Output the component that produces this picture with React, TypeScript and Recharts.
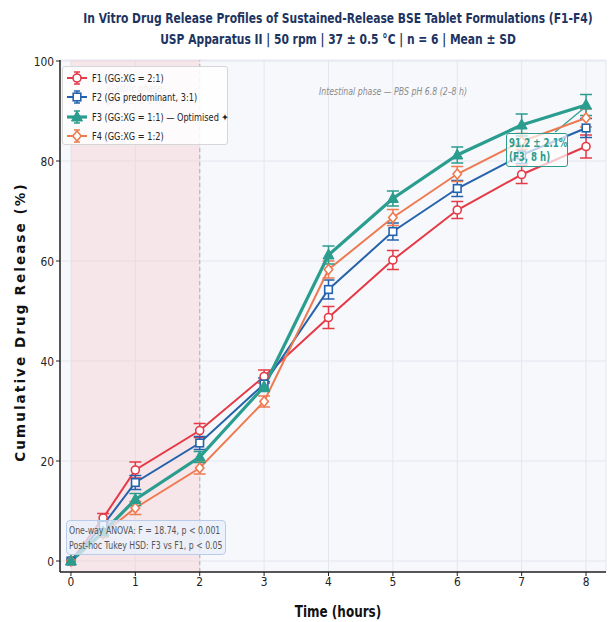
import {
  CartesianGrid,
  ErrorBar,
  Line,
  LineChart,
  ReferenceArea,
  ReferenceLine,
  XAxis,
  YAxis,
} from 'recharts'

const times = [0, 0.5, 1, 2, 3, 4, 5, 6, 7, 8]

const f1Mean = [0, 8.6, 18.2, 26.1, 36.9, 48.7, 60.2, 70.2, 77.3, 82.9]
const f1Sd = [0, 0.9, 1.6, 1.4, 1.3, 2.2, 1.9, 1.7, 1.8, 2.3]
const f2Mean = [0, 7.2, 15.7, 23.6, 35.4, 54.3, 65.9, 74.5, 81.2, 86.6]
const f2Sd = [0, 0.8, 1.4, 1.3, 1.2, 1.9, 1.7, 1.6, 1.7, 1.9]
const f3Mean = [0, 5.8, 12.3, 20.8, 34.9, 61.2, 72.5, 81.2, 87.2, 91.2]
const f3Sd = [0, 0.6, 1.2, 1.1, 1.0, 1.8, 1.5, 1.6, 2.2, 2.1]
const f4Mean = [0, 5.5, 10.6, 18.6, 31.9, 58.3, 68.7, 77.4, 83.9, 88.6]
const f4Sd = [0, 0.7, 1.3, 1.2, 1.1, 1.7, 1.6, 1.5, 1.6, 1.8]

const xTicks = [0, 1, 2, 3, 4, 5, 6, 7, 8]
const yTicks = [0, 20, 40, 60, 80, 100]

const COLORS = {
  f1: '#e63946',
  f2: '#2463ac',
  f3: '#2a9d8f',
  f4: '#ee7a50',
}

const legendItems = [
  { key: 'f1', label: 'F1 (GG:XG = 2:1)', shape: 'circle' },
  { key: 'f2', label: 'F2 (GG predominant, 3:1)', shape: 'square' },
  { key: 'f3', label: 'F3 (GG:XG = 1:1) — Optimised ✦', shape: 'triangle' },
  { key: 'f4', label: 'F4 (GG:XG = 1:2)', shape: 'diamond' },
] as const

const data = times.map((t, i) => ({
  t,
  f1: f1Mean[i],
  f1Sd: f1Sd[i],
  f2: f2Mean[i],
  f2Sd: f2Sd[i],
  f3: f3Mean[i],
  f3Sd: f3Sd[i],
  f4: f4Mean[i],
  f4Sd: f4Sd[i],
}))

const FONT = "'DejaVu Sans', sans-serif"

const Marker = ({
  shape,
  cx,
  cy,
  color,
}: {
  shape: string
  cx: number
  cy: number
  color: string
}) => {
  if (shape === 'circle')
    return <circle cx={cx} cy={cy} r={4} fill="#fff" stroke={color} strokeWidth={1.6} />
  if (shape === 'square')
    return (
      <rect x={cx - 3.8} y={cy - 3.8} width={7.6} height={7.6} fill="#fff" stroke={color} strokeWidth={1.6} />
    )
  if (shape === 'triangle')
    return (
      <polygon
        points={`${cx},${cy - 6} ${cx - 5.5},${cy + 4} ${cx + 5.5},${cy + 4}`}
        fill={color}
        stroke={color}
        strokeWidth={1}
      />
    )
  return (
    <polygon
      points={`${cx},${cy - 5} ${cx + 4.2},${cy} ${cx},${cy + 5} ${cx - 4.2},${cy}`}
      fill="#fff"
      stroke={color}
      strokeWidth={1.6}
    />
  )
}

const makeDot = (shape: string, color: string) => (props: any) => (
  <Marker key={`${shape}-${props.index}`} shape={shape} cx={props.cx} cy={props.cy} color={color} />
)

// DejaVu Sans squeezed horizontally, like the condensed face in the reference
const NarrowTick = ({ x, y, payload, textAnchor, dy }: any) => (
  <g transform={`translate(${x},${y}) scale(0.82,1)`}>
    <text
      x={0}
      y={0}
      dy={dy ?? '0.355em'}
      textAnchor={textAnchor}
      fontFamily={FONT}
      fontSize={13}
      fill="#222"
    >
      {payload.value}
    </text>
  </g>
)

const squeeze = (k: number, origin = 'center') => ({
  transform: `scaleX(${k})`,
  transformOrigin: origin,
})

export default function App() {
  return (
    <div style={{ position: 'fixed', left: 0, top: 0, width: 609, height: 622, background: '#fff', overflow: 'hidden' }}>
      <div
        style={{
          position: 'absolute',
          left: 0,
          width: 676,
          top: 8,
          textAlign: 'center',
          fontFamily: FONT,
          fontWeight: 'bold',
          fontSize: 13.5,
          lineHeight: '21px',
          color: '#1d3461',
          whiteSpace: 'nowrap',
          ...squeeze(0.795),
        }}
      >
        In Vitro Drug Release Profiles of Sustained-Release BSE Tablet Formulations (F1-F4)
        <br />
        USP Apparatus II | 50 rpm | 37 ± 0.5 °C | n = 6 | Mean ± SD
      </div>

      <LineChart width={609} height={622} data={data} margin={{ top: 60, right: 3, bottom: 20, left: 20 }}>
        <CartesianGrid stroke="#e4e6ef" strokeWidth={1} fill="#f7f8fc" />
        <ReferenceArea x1={0} x2={2} y1={-2.2} y2={100.2} fill="#f3cfd3" fillOpacity={0.45} stroke="none" />
        <ReferenceLine x={2} stroke="#b8b8b8" strokeDasharray="4 3" strokeWidth={1.2} />
        <XAxis
          dataKey="t"
          type="number"
          domain={[-0.17, 8.31]}
          ticks={xTicks}
          allowDataOverflow
          height={30}
          axisLine={{ stroke: '#222', strokeWidth: 1.5 }}
          tickLine={{ stroke: '#222' }}
          tickSize={4}
          tickMargin={5}
          tick={<NarrowTick />}
        />
        <YAxis
          type="number"
          domain={[-2.2, 100.2]}
          ticks={yTicks}
          allowDataOverflow
          width={40}
          axisLine={{ stroke: '#222', strokeWidth: 1.5 }}
          tickLine={{ stroke: '#222' }}
          tickSize={4}
          tick={<NarrowTick />}
        />
        <ReferenceLine
          segment={[
            { x: 7.52, y: 85.8 },
            { x: 7.97, y: 90.6 },
          ]}
          stroke={COLORS.f3}
          strokeWidth={1.2}
        />
        <Line
          dataKey="f1"
          stroke={COLORS.f1}
          strokeWidth={2}
          dot={makeDot('circle', COLORS.f1)}
          isAnimationActive={false}
        >
          <ErrorBar dataKey="f1Sd" width={6} stroke={COLORS.f1} strokeWidth={1.5} direction="y" />
        </Line>
        <Line
          dataKey="f2"
          stroke={COLORS.f2}
          strokeWidth={2}
          dot={makeDot('square', COLORS.f2)}
          isAnimationActive={false}
        >
          <ErrorBar dataKey="f2Sd" width={6} stroke={COLORS.f2} strokeWidth={1.5} direction="y" />
        </Line>
        <Line
          dataKey="f4"
          stroke={COLORS.f4}
          strokeWidth={2}
          dot={makeDot('diamond', COLORS.f4)}
          isAnimationActive={false}
        >
          <ErrorBar dataKey="f4Sd" width={6} stroke={COLORS.f4} strokeWidth={1.5} direction="y" />
        </Line>
        <Line
          dataKey="f3"
          stroke={COLORS.f3}
          strokeWidth={3.2}
          dot={makeDot('triangle', COLORS.f3)}
          isAnimationActive={false}
        >
          <ErrorBar dataKey="f3Sd" width={6} stroke={COLORS.f3} strokeWidth={1.5} direction="y" />
        </Line>
      </LineChart>

      {/* phase captions */}
      <div
        style={{
          position: 'absolute',
          left: 85,
          width: 100,
          top: 83,
          textAlign: 'center',
          fontFamily: FONT,
          fontStyle: 'italic',
          fontSize: 10,
          lineHeight: '12px',
          color: '#8a8a8a',
          whiteSpace: 'nowrap',
          ...squeeze(0.78),
        }}
      >
        Gastric phase
        <br />
        (pH 1.2, 0–2 h)
      </div>
      <div
        style={{
          position: 'absolute',
          left: 293,
          width: 200,
          top: 86,
          textAlign: 'center',
          fontFamily: FONT,
          fontStyle: 'italic',
          fontSize: 10,
          color: '#8a8a8a',
          whiteSpace: 'nowrap',
          ...squeeze(0.78),
        }}
      >
        Intestinal phase — PBS pH 6.8 (2–8 h)
      </div>

      {/* legend */}
      <div
        style={{
          position: 'absolute',
          left: 62,
          top: 66,
          width: 166,
          height: 79,
          boxSizing: 'border-box',
          background: 'rgba(255,255,255,0.85)',
          border: '1px solid #d6d6d6',
          borderRadius: 3,
          fontFamily: FONT,
          fontSize: 10.5,
          color: '#222',
          padding: '1px 0 0 3px',
          whiteSpace: 'nowrap',
        }}
      >
        {legendItems.map((it) => (
          <div key={it.key} style={{ display: 'flex', alignItems: 'center', height: 19.5 }}>
            <svg width={22} height={14} style={{ flexShrink: 0 }}>
              <line
                x1={1}
                y1={7}
                x2={21}
                y2={7}
                stroke={COLORS[it.key]}
                strokeWidth={it.key === 'f3' ? 3.2 : 2}
              />
              <line x1={11} y1={1} x2={11} y2={13} stroke={COLORS[it.key]} strokeWidth={1.5} />
              <line x1={8} y1={1} x2={14} y2={1} stroke={COLORS[it.key]} strokeWidth={1.5} />
              <line x1={8} y1={13} x2={14} y2={13} stroke={COLORS[it.key]} strokeWidth={1.5} />
              <Marker shape={it.shape} cx={11} cy={7} color={COLORS[it.key]} />
            </svg>
            <span style={{ marginLeft: 4, display: 'inline-block', ...squeeze(0.78, 'left') }}>
              {it.label}
            </span>
          </div>
        ))}
      </div>

      {/* statistics box */}
      <div
        style={{
          position: 'absolute',
          left: 66,
          top: 520,
          width: 160,
          height: 35,
          boxSizing: 'border-box',
          background: 'rgba(232,240,252,0.75)',
          border: '1px solid #b9cbe8',
          borderRadius: 4,
          fontFamily: FONT,
          fontSize: 10,
          lineHeight: '15px',
          color: '#555',
          padding: '2px 0 0 2px',
          whiteSpace: 'nowrap',
        }}
      >
        <div style={squeeze(0.78, 'left')}>One-way ANOVA: F = 18.74, p &lt; 0.001</div>
        <div style={squeeze(0.78, 'left')}>Post-hoc Tukey HSD: F3 vs F1, p &lt; 0.05</div>
      </div>

      {/* F3 end-point annotation */}
      <div
        style={{
          position: 'absolute',
          left: 506,
          top: 133,
          width: 62,
          height: 34,
          boxSizing: 'border-box',
          background: 'rgba(255,255,255,0.7)',
          border: `1px solid ${COLORS.f3}`,
          borderRadius: 3,
          fontFamily: FONT,
          fontWeight: 'bold',
          fontSize: 11.5,
          lineHeight: '14px',
          color: COLORS.f3,
          padding: '2px 0 0 2px',
          whiteSpace: 'nowrap',
        }}
      >
        <div style={squeeze(0.75, 'left')}>91.2 ± 2.1%</div>
        <div style={squeeze(0.75, 'left')}>(F3, 8 h)</div>
      </div>

      {/* axis titles */}
      <div
        style={{
          position: 'absolute',
          left: 0,
          width: 676,
          top: 603,
          textAlign: 'center',
          fontFamily: FONT,
          fontWeight: 'bold',
          fontSize: 15,
          color: '#111',
          ...squeeze(0.8),
        }}
      >
        Time (hours)
      </div>
      <div
        style={{
          position: 'absolute',
          left: 20,
          top: 322,
          transform: 'translate(-50%, -50%) rotate(-90deg)',
          fontFamily: FONT,
          fontWeight: 'bold',
          fontSize: 13.5,
          letterSpacing: 2.1,
          whiteSpace: 'nowrap',
          color: '#111',
        }}
      >
        Cumulative Drug Release (%)
      </div>
    </div>
  )
}
